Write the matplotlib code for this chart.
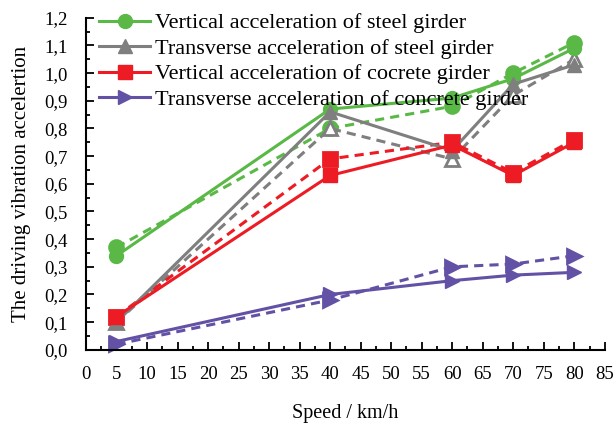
import numpy as np
import matplotlib.pyplot as plt
from matplotlib.ticker import MultipleLocator, FuncFormatter

plt.rcParams["font.family"] = ["Liberation Serif", "DejaVu Serif"]

speed = [5, 40, 60, 70, 80]

# solid lines (legend) and dashed companions
steel_vert = [0.34, 0.87, 0.91, 0.98, 1.09]
steel_vert_d = [0.37, 0.80, 0.88, 1.00, 1.11]
steel_trans = [0.10, 0.86, 0.72, 0.96, 1.03]
steel_trans_d = [0.10, 0.80, 0.69, 0.92, 1.05]
conc_vert = [0.12, 0.63, 0.74, 0.63, 0.75]
conc_vert_d = [0.12, 0.69, 0.75, 0.64, 0.76]
conc_trans = [0.03, 0.20, 0.25, 0.27, 0.28]
conc_trans_d = [0.02, 0.18, 0.30, 0.31, 0.34]

labels = [
    "Vertical acceleration of steel girder",
    "Transverse acceleration of steel girder",
    "Vertical acceleration of cocrete girder",
    "Transverse acceleration of concrete girder",
]
colors = ["#5ab946", "#7f7f7f", "#ed1c24", "#6351a5"]
markers = ["o", "^", "s", ">"]

fig = plt.figure(figsize=(6.14, 4.23), dpi=100)
ax = fig.add_axes([0.140, 0.173, 0.845, 0.785])

solid = [steel_vert, steel_trans, conc_vert, conc_trans]
dashed = [steel_vert_d, steel_trans_d, conc_vert_d, conc_trans_d]
for i in range(4):
    face = "white" if markers[i] == "^" else colors[i]
    ax.plot(speed, dashed[i], "--", color=colors[i], marker=markers[i], ms=10,
            mfc=face, mec=colors[i], mew=2, lw=2.2, dashes=(3, 2), clip_on=False)
for i in range(4):
    ax.plot(speed, solid[i], "-", color=colors[i], marker=markers[i], ms=10,
            lw=2.2, label=labels[i], clip_on=False)

ax.set_xlim(0, 85)
ax.set_ylim(0, 1.2)
ax.xaxis.set_major_locator(MultipleLocator(5))
ax.xaxis.set_minor_locator(MultipleLocator(2.5))
ax.yaxis.set_major_locator(MultipleLocator(0.1))
ax.yaxis.set_minor_locator(MultipleLocator(0.05))
ax.yaxis.set_major_formatter(FuncFormatter(lambda v, p: f"{v:.1f}".replace(".", ",")))
ax.tick_params(which="major", direction="in", length=6, width=1.3, labelsize=13.5)
ax.tick_params(which="minor", direction="in", length=3, width=1.3)
ax.tick_params(axis="x", which="major", pad=12)
ax.tick_params(axis="y", which="major", pad=13)
for s in ["top", "right"]:
    ax.spines[s].set_visible(False)
for s in ["left", "bottom"]:
    ax.spines[s].set_linewidth(1.5)

ax.set_xlabel("Speed / km/h", fontsize=14.5, labelpad=15)
ax.set_ylabel("The driving vibration accelertion", fontsize=15, labelpad=10)

leg = ax.legend(loc="upper left", bbox_to_anchor=(0.0, 1.055), frameon=False,
                fontsize=16, handlelength=2.3, handletextpad=0.2,
                labelspacing=0.22, borderaxespad=0.2)
leg.set_zorder(5)

fig.savefig("out.png", dpi=100)
